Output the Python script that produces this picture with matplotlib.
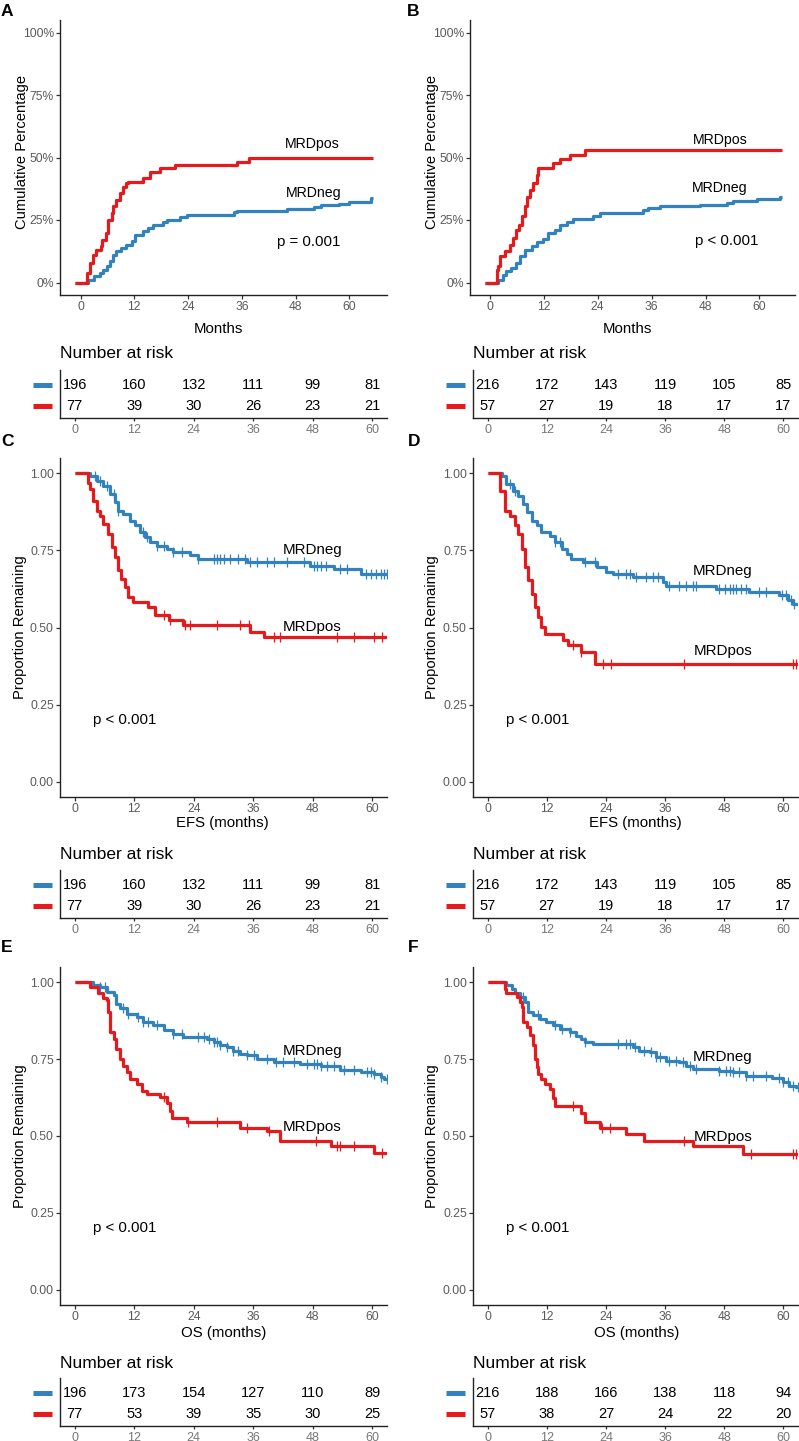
import numpy as np
import matplotlib
matplotlib.use("Agg")
import matplotlib.pyplot as plt

plt.rcParams["font.family"] = ["Liberation Sans", "DejaVu Sans"]

W, H = 799, 1441
BLUE = "#3182BD"
RED = "#E41A1C"
TICK_GREY = "#5a5a5a"

# === Data ===
months_ticks = [0, 12, 24, 36, 48, 60]

# A: cumulative percentage (MRDneg / MRDpos)
a_neg_t = [-1.2, 1.6, 3.1, 4.3, 5.0, 5.8, 6.5, 7.2, 8.0, 9.1, 10.2, 11.4, 12.1, 14.0, 15.1,
           16.2, 18.5, 19.2, 22.2, 23.7, 34.2, 34.9, 46.1, 52.1, 53.6, 57.7, 59.9, 64.8, 65.2]
a_neg_v = [0, 1.2, 2.5, 3.9, 5.2, 6.5, 8.5, 11.2, 12.5, 13.8, 15.2, 16.5, 19.1, 20.5, 21.8,
           23.1, 24.1, 25.1, 26.2, 27.1, 28.1, 28.7, 29.4, 30.2, 30.9, 31.5, 32.4, 33.8, 33.8]
a_pos_t = [-1.2, 1.4, 2.0, 2.7, 3.5, 4.5, 4.7, 5.6, 6.2, 6.9, 7.3, 8.0, 8.7, 9.5, 10.2, 10.6,
           14.0, 15.5, 17.7, 21.0, 34.9, 37.5, 65.2]
a_pos_v = [0, 3.9, 7.8, 11.0, 13.0, 14.5, 17.0, 19.8, 25.0, 27.8, 30.5, 33.0, 35.8, 38.4, 39.8,
           40.4, 41.8, 44.4, 45.7, 47.0, 48.4, 50.0, 50.0]

# B: cumulative percentage
b_neg_t = [-1.1, 1.9, 3.0, 3.7, 4.8, 5.9, 6.7, 7.8, 9.3, 10.4, 11.9, 13.0, 14.5, 15.6, 17.1,
           18.6, 23.0, 24.5, 34.1, 35.3, 37.9, 46.8, 52.7, 54.2, 59.4, 64.6, 65.0]
b_neg_v = [0, 1.2, 3.2, 4.5, 5.9, 7.8, 10.5, 13.2, 14.5, 16.1, 17.4, 19.8, 21.1, 23.1, 24.1,
           25.4, 26.7, 27.8, 28.9, 29.7, 30.5, 31.1, 32.0, 32.7, 33.4, 34.4, 34.4]
b_pos_t = [-1.1, 1.5, 1.9, 2.2, 3.3, 4.5, 5.2, 5.9, 6.5, 7.1, 7.8, 8.3, 8.9, 9.7, 10.4, 10.8,
           14.1, 15.6, 17.8, 21.2, 65.0]
b_pos_v = [0, 5.2, 6.5, 10.5, 12.5, 15.2, 17.8, 21.1, 23.1, 26.5, 30.5, 34.4, 37.1, 39.8, 43.1,
           45.7, 47.7, 49.3, 51.1, 53.1, 53.1]

# C: EFS
c_neg_t = [0, 3.0, 4.4, 5.7, 7.1, 8.1, 8.8, 9.8, 11.1, 12.1, 13.1, 14.2, 15.2, 16.5, 18.5,
           19.9, 23.3, 24.9, 34.7, 47.5, 52.3, 57.7, 63.0]
c_neg_v = [1, .992, .976, .960, .933, .906, .879, .868, .847, .831, .809, .793, .777, .766, .755,
           .744, .734, .723, .712, .701, .690, .674, .674]
c_neg_cens = [4.0, 5.1, 6.4, 7.8, 8.8, 13.8, 14.5, 16.5, 17.9, 19.9, 21.6, 24.9, 28.0, 28.7,
              29.3, 30.0, 31.4, 33.0, 34.4, 35.4, 36.7, 38.8, 40.1, 42.8, 46.2, 48.2, 48.9,
              49.6, 50.6, 53.6, 54.9, 58.7, 59.7, 60.7, 61.7, 62.4, 63.0]
c_pos_t = [0, 2.7, 3.0, 3.7, 4.4, 5.1, 5.7, 6.7, 7.4, 8.1, 8.8, 9.4, 10.1, 10.8, 11.8, 14.8,
           16.2, 18.9, 21.9, 35.4, 38.1, 63.0]
c_pos_v = [1, .968, .949, .912, .879, .863, .836, .804, .761, .728, .685, .658, .631, .599, .583,
           .566, .539, .523, .507, .485, .469, .469]
c_pos_cens = [17.9, 19.2, 22.3, 23.3, 28.7, 33.4, 35.1, 40.1, 41.5, 52.9, 56.3, 60.4, 62.0]

# D: EFS
d_neg_t = [0, 2.8, 3.8, 5.2, 6.2, 7.2, 7.9, 8.9, 9.9, 10.9, 12.6, 13.6, 15.0, 16.0, 17.0, 19.4,
           22.1, 24.1, 25.4, 29.5, 35.6, 36.2, 46.4, 53.1, 59.2, 60.9, 61.9, 63.0]
d_neg_v = [1, .992, .965, .944, .928, .901, .874, .847, .831, .809, .798, .777, .755, .739, .723,
           .712, .696, .680, .674, .663, .647, .636, .626, .615, .604, .588, .577, .577]
d_neg_cens = [4.5, 5.5, 13.6, 14.6, 19.7, 21.7, 26.5, 28.1, 28.8, 30.2, 32.2, 33.5, 34.5, 36.9,
              38.9, 40.3, 41.6, 42.3, 47.0, 48.1, 49.1, 49.7, 50.4, 51.4, 52.4, 55.1, 56.4,
              59.8, 60.5, 61.5, 62.2]
d_pos_t = [0, 2.5, 3.5, 4.5, 5.5, 6.2, 6.9, 7.6, 8.2, 8.9, 9.6, 10.3, 10.9, 11.6, 15.3, 16.3,
           19.0, 21.7, 63.0]
d_pos_v = [1, .944, .879, .863, .831, .804, .755, .696, .653, .609, .566, .534, .502, .480, .458,
           .442, .420, .383, .383]
d_pos_cens = [17.3, 19.0, 23.4, 25.1, 39.9, 61.9, 62.6]

# E: OS
e_neg_t = [0, 3.7, 5.1, 6.4, 7.8, 8.4, 9.1, 10.5, 12.5, 13.8, 15.8, 17.9, 19.9, 21.9, 26.6,
           28.0, 29.3, 30.7, 32.0, 33.4, 34.7, 36.7, 40.1, 45.5, 49.6, 53.6, 57.7, 60.4, 61.7,
           62.4, 63.0]
e_neg_v = [1, .993, .986, .969, .959, .931, .915, .898, .888, .871, .860, .844, .833, .822, .817,
           .806, .795, .789, .778, .767, .762, .751, .742, .734, .727, .716, .709, .702, .691,
           .686, .686]
e_neg_cens = [5.1, 6.1, 9.8, 10.8, 12.8, 13.8, 14.8, 16.5, 19.9, 21.6, 24.9, 26.0, 27.0, 28.0,
              28.7, 29.3, 30.7, 32.0, 33.0, 34.7, 36.1, 38.8, 40.5, 42.1, 44.2, 46.9, 48.2,
              48.9, 49.6, 50.9, 52.3, 54.3, 56.3, 59.0, 59.7, 60.4, 61.7, 63.0]
e_pos_t = [0, 3.0, 4.7, 5.7, 6.4, 6.7, 7.1, 7.8, 8.4, 9.1, 9.8, 10.5, 11.1, 12.5, 13.5, 14.5,
           17.2, 18.5, 19.2, 19.6, 22.6, 33.4, 38.8, 41.5, 51.6, 60.4, 63.0]
e_pos_v = [1, .986, .965, .950, .942, .904, .838, .817, .784, .751, .729, .707, .686, .669, .648,
           .637, .626, .609, .582, .560, .544, .527, .516, .484, .467, .445, .445]
e_pos_cens = [17.9, 22.9, 28.7, 34.7, 39.1, 48.6, 52.9, 53.6, 56.3, 62.0]

# F: OS
f_neg_t = [0, 3.8, 4.9, 5.5, 6.5, 7.6, 8.2, 9.2, 10.6, 11.9, 13.3, 14.6, 16.7, 18.0, 19.0, 19.7,
           21.4, 29.5, 30.8, 32.9, 34.2, 36.2, 38.9, 40.3, 41.6, 47.0, 49.7, 52.4, 57.8, 59.9,
           61.2, 62.6, 63.0]
f_neg_v = [1, .991, .980, .964, .953, .937, .904, .893, .882, .871, .860, .849, .838, .827, .817,
           .806, .800, .789, .778, .773, .756, .745, .740, .729, .718, .713, .707, .696, .688,
           .675, .664, .658, .658]
f_neg_cens = [7.2, 10.3, 13.6, 15.0, 16.7, 19.7, 26.5, 28.1, 28.8, 29.8, 31.8, 33.2, 34.2, 34.9,
              36.9, 38.3, 39.6, 41.0, 42.3, 47.0, 48.4, 49.1, 49.7, 51.1, 52.4, 53.8, 56.5,
              59.2, 59.9, 60.9, 61.9, 62.9]
f_pos_t = [0, 3.5, 3.8, 5.9, 6.5, 6.9, 7.2, 7.9, 8.6, 9.2, 9.6, 9.9, 10.3, 10.9, 11.6, 12.6,
           13.3, 13.6, 19.0, 19.7, 22.7, 28.1, 31.8, 41.6, 51.8, 63.0]
f_pos_v = [1, .980, .964, .953, .937, .920, .871, .855, .828, .795, .750, .723, .701, .685, .668,
           .652, .625, .598, .576, .544, .527, .506, .484, .467, .440, .440]
f_pos_cens = [17.3, 23.1, 24.8, 39.9, 53.4, 61.9, 62.6]

# Number at risk tables
risk_a_neg = [196, 160, 132, 111, 99, 81]
risk_a_pos = [77, 39, 30, 26, 23, 21]
risk_b_neg = [216, 172, 143, 119, 105, 85]
risk_b_pos = [57, 27, 19, 18, 17, 17]
risk_e_neg = [196, 173, 154, 127, 110, 89]
risk_e_pos = [77, 53, 39, 35, 30, 25]
risk_f_neg = [216, 188, 166, 138, 118, 94]
risk_f_pos = [57, 38, 27, 24, 22, 20]

fig = plt.figure(figsize=(W / 100, H / 100), dpi=100)


def px_ax(x0, y0, x1, y1):
    return fig.add_axes([x0 / W, 1 - y1 / H, (x1 - x0) / W, (y1 - y0) / H])


def ftext(x, y, s, **kw):
    fig.text(x / W, 1 - y / H, s, **kw)


def style_main(ax, labelsize=8.7):
    for s in ["top", "right"]:
        ax.spines[s].set_visible(False)
    for s in ["left", "bottom"]:
        ax.spines[s].set_linewidth(1.0)
        ax.spines[s].set_color("#222222")
    ax.tick_params(length=3, width=0.9, color="#333333", labelcolor=TICK_GREY,
                   labelsize=labelsize, pad=1.5)
    ax.set_xticks(months_ticks)


def censor_marks(ax, t, v, cens, color):
    idx = np.searchsorted(t, cens, side="right") - 1
    ax.plot(cens, np.asarray(v)[idx], ls="none", marker="|", ms=7, mew=0.9,
            color=color, zorder=3)


def main_panel(box, curves, labels, pval, xlim, ylab, xlab, pct=False, lab_fs=10.9):
    ax = px_ax(*box)
    for t, v, cens, col in curves:
        ax.step(t, v, where="post", color=col, lw=2.3, solid_capstyle="butt", zorder=2)
        if cens is not None:
            censor_marks(ax, t, v, cens, col)
    for (x, y, s) in labels:
        ax.text(x, y, s, ha="center", va="center", fontsize=lab_fs)
    ax.text(pval[0], pval[1], pval[2], ha="center", va="center", fontsize=10.8)
    ax.set_xlim(*xlim)
    if pct:
        ax.set_ylim(-5, 105)
        ax.set_yticks([0, 25, 50, 75, 100])
        ax.set_yticklabels(["0%", "25%", "50%", "75%", "100%"])
    else:
        ax.set_ylim(-0.05, 1.05)
        ax.set_yticks([0, 0.25, 0.5, 0.75, 1.0])
        ax.set_yticklabels(["0.00", "0.25", "0.50", "0.75", "1.00"])
    style_main(ax)
    ftext(xlab[0], xlab[1], xlab[2], ha="center", va="center", fontsize=10.8)
    ftext(ylab[0], ylab[1], ylab[2], ha="center", va="center", rotation=90, fontsize=10.6)
    return ax


def risk_table(box, neg, pos, title_y):
    ax = px_ax(*box)
    for i, (n, p) in enumerate(zip(neg, pos)):
        ax.text(months_ticks[i], 1, str(n), ha="center", va="center", fontsize=10.5)
        ax.text(months_ticks[i], 0, str(p), ha="center", va="center", fontsize=10.5)
    ax.set_xlim(-3, 63)
    ax.set_ylim(-0.57, 1.71)
    ax.set_yticks([])
    style_main(ax, labelsize=9)
    ax.tick_params(axis="x", length=2.5, labelcolor="#777777")
    tr = ax.get_yaxis_transform()
    for yy, col in [(1, BLUE), (0, RED)]:
        ax.plot([-0.083, -0.025], [yy, yy], color=col, lw=3.6, transform=tr,
                clip_on=False, solid_capstyle="butt")
    ftext(box[0], title_y, "Number at risk", ha="left", va="center", fontsize=12.5)
    return ax


# === Row 1: cumulative incidence ===
main_panel((60, 20, 387, 295),
           [(a_neg_t, a_neg_v, None, BLUE), (a_pos_t, a_pos_v, None, RED)],
           [(51.8, 55.4, "MRDpos"), (52.0, 35.9, "MRDneg")],
           (51.0, 16.3, "p = 0.001"), (-4.6, 68.4),
           (22, 152, "Cumulative Percentage"), (218, 329, "Months"), pct=True, lab_fs=10.2)
main_panel((470, 20, 795, 295),
           [(b_neg_t, b_neg_v, None, BLUE), (b_pos_t, b_pos_v, None, RED)],
           [(51.2, 57.0, "MRDpos"), (51.2, 37.8, "MRDneg")],
           (52.8, 16.7, "p < 0.001"), (-4.4, 67.9),
           (432, 152, "Cumulative Percentage"), (627, 329, "Months"), pct=True, lab_fs=10.2)
risk_table((60, 370, 387, 418), risk_a_neg, risk_a_pos, 353)
risk_table((473, 370, 798, 418), risk_b_neg, risk_b_pos, 353)

# === Row 2: EFS ===
main_panel((60, 458, 387, 797),
           [(c_neg_t, c_neg_v, c_neg_cens, BLUE), (c_pos_t, c_pos_v, c_pos_cens, RED)],
           [(47.9, 0.751, "MRDneg"), (47.9, 0.502, "MRDpos")],
           (10.1, 0.20, "p < 0.001"), (-3, 63),
           (20, 627, "Proportion Remaining"), (222, 823, "EFS (months)"))
main_panel((473, 458, 798, 797),
           [(d_neg_t, d_neg_v, d_neg_cens, BLUE), (d_pos_t, d_pos_v, d_pos_cens, RED)],
           [(47.7, 0.683, "MRDneg"), (47.7, 0.424, "MRDpos")],
           (10.1, 0.20, "p < 0.001"), (-3, 63),
           (432, 627, "Proportion Remaining"), (635, 823, "EFS (months)"))
risk_table((60, 870, 387, 918), risk_a_neg, risk_a_pos, 855)
risk_table((473, 870, 798, 918), risk_b_neg, risk_b_pos, 855)

# === Row 3: OS ===
main_panel((60, 967, 387, 1305),
           [(e_neg_t, e_neg_v, e_neg_cens, BLUE), (e_pos_t, e_pos_v, e_pos_cens, RED)],
           [(47.9, 0.777, "MRDneg"), (47.9, 0.528, "MRDpos")],
           (10.1, 0.20, "p < 0.001"), (-3, 63),
           (20, 1136, "Proportion Remaining"), (224, 1333, "OS (months)"))
main_panel((473, 967, 798, 1305),
           [(f_neg_t, f_neg_v, f_neg_cens, BLUE), (f_pos_t, f_pos_v, f_pos_cens, RED)],
           [(47.7, 0.757, "MRDneg"), (47.7, 0.498, "MRDpos")],
           (10.1, 0.20, "p < 0.001"), (-3, 63),
           (432, 1136, "Proportion Remaining"), (637, 1333, "OS (months)"))
risk_table((60, 1378, 387, 1426), risk_e_neg, risk_e_pos, 1363)
risk_table((473, 1378, 798, 1426), risk_f_neg, risk_f_pos, 1363)

# panel letters
for s, x, y in [("A", 1, 11), ("B", 407, 11), ("C", 1, 441),
                ("D", 408, 441), ("E", 1, 947), ("F", 408, 947)]:
    ftext(x, y, s, ha="left", va="center", fontsize=12.5, fontweight="bold")

fig.savefig("out.png", dpi=100)
